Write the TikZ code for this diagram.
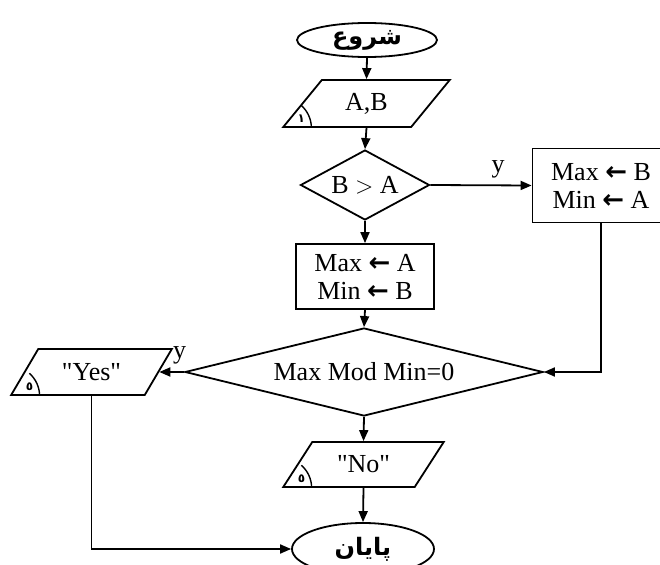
\documentclass[tikz,border=0pt]{standalone}
\usepackage{fontspec}
\setmainfont{Liberation Serif}
\newfontfamily\farsi[Script=Arabic]{DejaVu Sans}
\newfontfamily\symfont{DejaVu Sans}
\TeXXeTstate=1
\usetikzlibrary{arrows.meta,positioning,shapes.geometric}

\begin{document}
\begin{tikzpicture}[
    x=0.5pt, y=0.5pt,
    >={Triangle[length=5.5pt,width=4.5pt]},
    line width=0.9pt,
    font=\fontsize{13}{14}\selectfont,
    % 流程圖元件樣式
    terminal/.style={ellipse, draw, inner sep=0pt, font=\farsi\bfseries\fontsize{12}{14}\selectfont},
    io/.style={trapezium, trapezium left angle=49, trapezium right angle=131,
               trapezium stretches=true, draw, inner sep=0pt,
               minimum width=80.5pt, minimum height=23pt},
    decision/.style={diamond, draw, inner sep=0pt},
    process/.style={rectangle, draw, inner sep=0pt, align=center},
    digit/.style={font=\farsi\bfseries\fontsize{6}{6}\selectfont, inner sep=0pt},
]
    % --- 座標參數 ---
    \def\colX{365}   % 主流程中線
    \def\rightX{601} % 右側方塊
    \def\leftX{91.5} % 左側輸出

    % 固定畫面大小
    \useasboundingbox (0,0) rectangle (660,564);

    % --- 1. 主流程節點 ---
    \node[terminal, minimum width=70pt, minimum height=17pt] (start) at (367, 524) {\beginR شروع\endR};
    \node[io, minimum width=83.5pt, minimum height=23.5pt] (input) at (366.5, 460.5) {A,B};
    \node[decision, aspect=1.84, minimum width=64.5pt, minimum height=35pt] (cmpAB) at (\colX, 379) {B $>$ A};
    \node[process, minimum width=68.5pt, minimum height=37pt] (swapBox) at (\rightX, 378.5)
        {Max {\symfont\bfseries ←} B\\Min {\symfont\bfseries ←} A};
    \node[process, minimum width=69pt, minimum height=32.5pt] (keepBox) at (\colX, 287.5)
        {Max {\symfont\bfseries ←} A\\Min {\symfont\bfseries ←} B};
    \node[decision, aspect=4.07, minimum width=179pt, minimum height=44pt] (modTest) at (364, 192) {Max Mod Min=0};
    \node[io] (outYes) at (\leftX, 192) {\textquotedbl Yes\textquotedbl};
    \node[io, minimum height=22.5pt] (outNo) at (363.5, 99.5) {\textquotedbl No\textquotedbl};
    \node[terminal, minimum width=71pt, minimum height=26pt] (stop) at (363, 15) {\beginR پایان\endR};

    % --- 2. 左下角角度記號 ---
    \foreach \io/\d in {input/١, outYes/٥, outNo/٥} {
        \draw[line width=0.7pt] ([shift={(15pt,0pt)}]\io.bottom left corner) arc[start angle=0, end angle=49, radius=15pt];
        \node[digit] at ([shift={(10pt,4.5pt)}]\io.bottom left corner) {\d};
    }

    % --- 3. 連接箭頭 ---
    \draw[->] (start.south) -- (input.north);
    \draw[->] (input.south) -- (cmpAB.north);
    \draw[->] (cmpAB.east) -- node[above, pos=0.67] {y} (swapBox.west);
    \draw[->] (cmpAB.south) -- (keepBox.north);
    \draw[->] (keepBox.south) -- (modTest.north);
    \draw[->] (swapBox.south) |- (modTest.east);
    \draw[->] (modTest.west) -- node[above, pos=0.18] {y} (outYes.right side);
    \draw[->] (modTest.south) -- (outNo.north);
    \draw[->] (outNo.south) -- (stop.north);
    \draw[->] (outYes.south) |- (stop.west);

\end{tikzpicture}
\end{document}
